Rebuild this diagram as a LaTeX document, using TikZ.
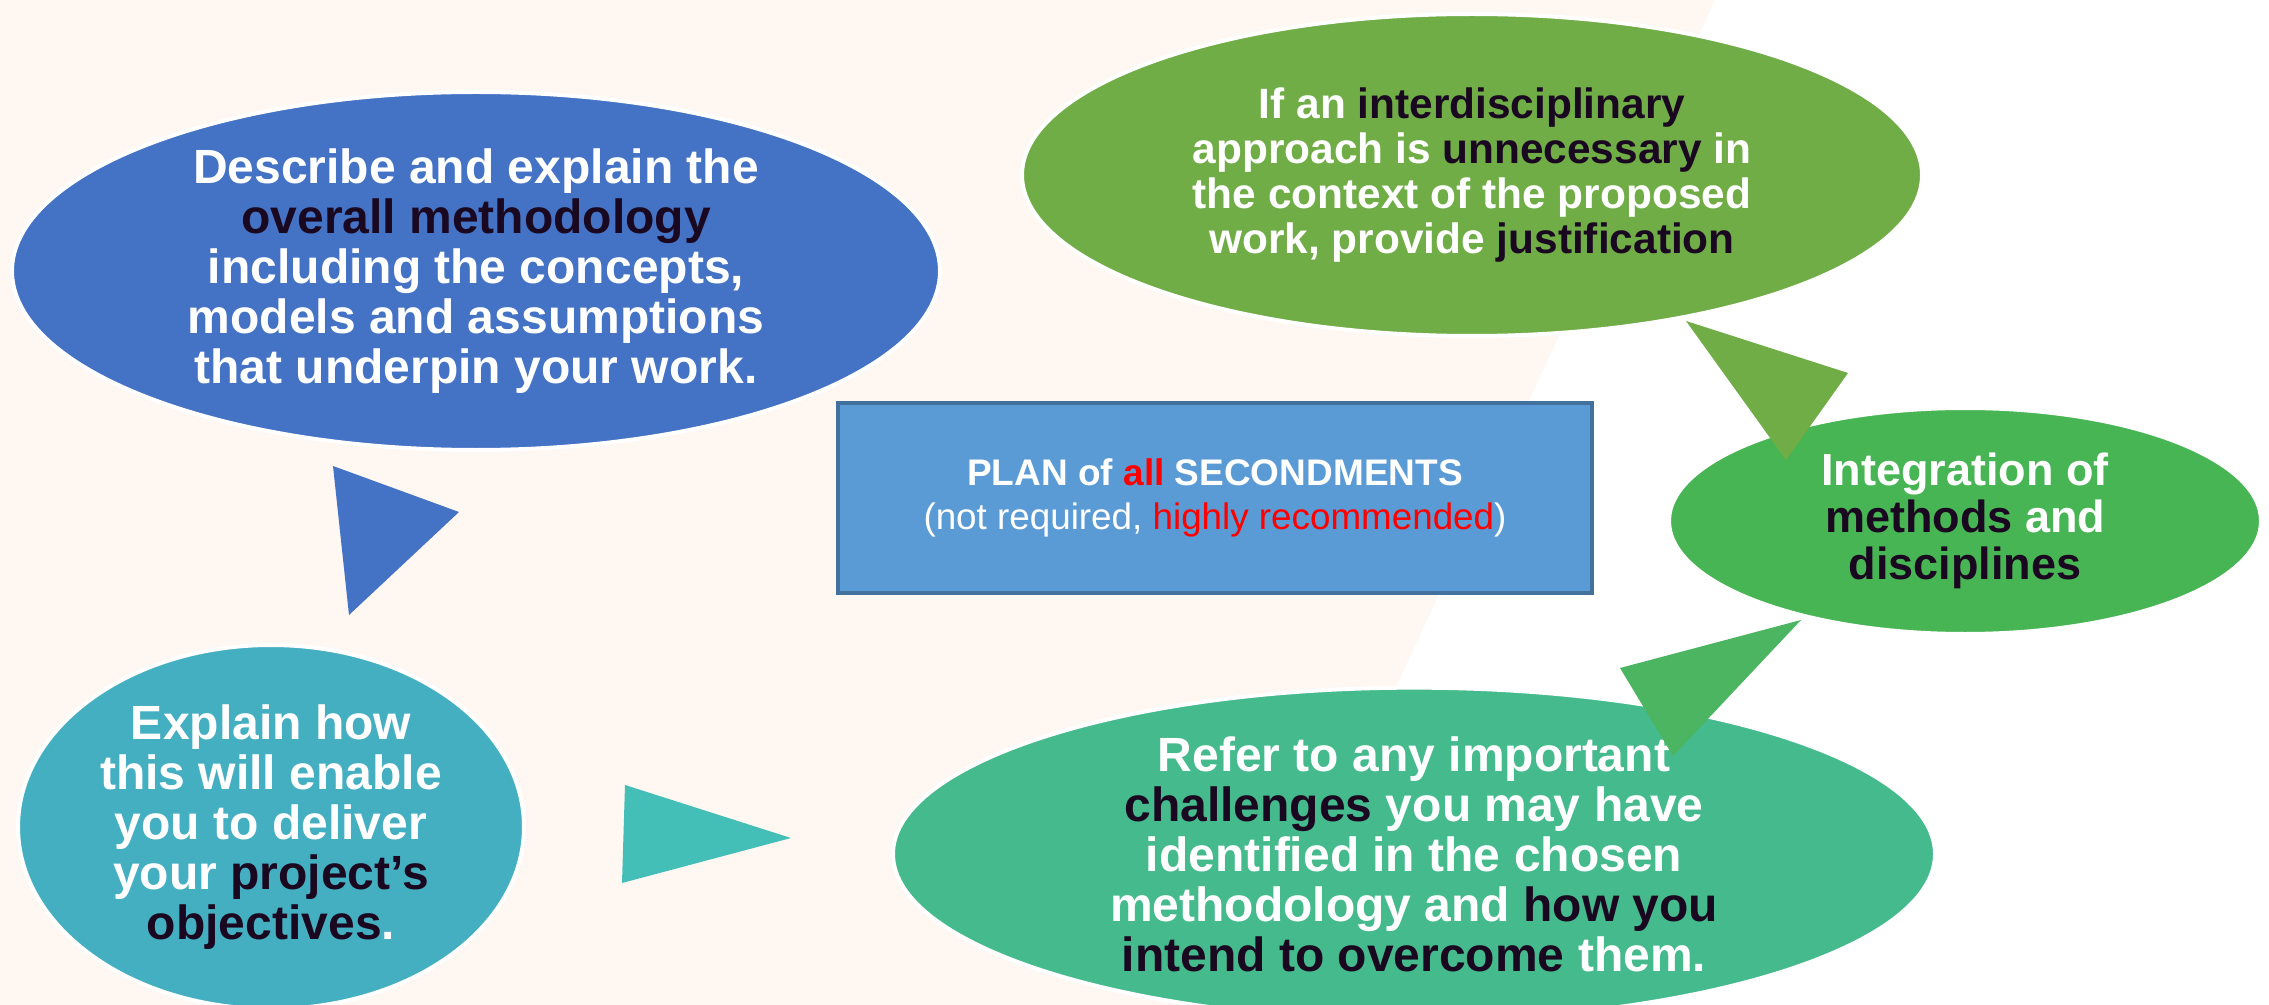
\documentclass[tikz,border=0pt]{standalone}
\usepackage{fontspec}
\setmainfont{Liberation Sans}
\usetikzlibrary{shapes.geometric}

\definecolor{peach}{HTML}{FEF7F2}
\definecolor{methodblue}{HTML}{4472C4}
\definecolor{interdgreen}{HTML}{70AD47}
\definecolor{integgreen}{HTML}{48B554}
\definecolor{challgreen}{HTML}{45BA8D}
\definecolor{objteal}{HTML}{45AFC2}
\definecolor{arrowteal}{HTML}{44BFB8}
\definecolor{arrowgreen}{HTML}{4BB562}
\definecolor{planfill}{HTML}{5B9BD5}
\definecolor{planedge}{HTML}{41719C}
\definecolor{darktext}{HTML}{1A0820}
\definecolor{hired}{HTML}{FF0000}

\newcommand{\dk}[1]{\textcolor{darktext}{#1}}

\tikzset{every picture/.style={line width=0.75pt}}
\tikzset{
  bubble/.style={ellipse, draw=white, line width=2pt, inner sep=0pt, align=center,
    text=white, font=\bfseries\fontsize{24}{25}\selectfont},
  planbox/.style={rectangle, draw=planedge, fill=planfill, line width=2pt, align=center,
    text=white, font=\fontsize{18.5}{22}\selectfont}
}

\begin{document}
\begin{tikzpicture}[x=0.5pt,y=0.5pt,yscale=-1,xscale=1]
	\useasboundingbox (0,0) rectangle (2269,1005);
	
	%Shape: Rectangle [background]
	\fill [white] (0,0) rectangle (2269,1005);
	%Shape: Polygon [peach band]
	\fill [peach] (0,0) -- (1715,0) -- (1248,1005) -- (0,1005) -- cycle;
	
	%Shape: Ellipse [methodology]
	\node [bubble, fill=methodblue, minimum width=464pt, minimum height=179pt] (method) at (476,271)
	{Describe and explain the\\ \dk{overall methodology}\\ including the concepts,\\ models and assumptions\\ that underpin your work.};
	%Shape: Ellipse [interdisciplinary]
	\node [bubble, fill=interdgreen, minimum width=450pt, minimum height=161pt,
	font=\bfseries\fontsize{21.2}{22.5}\selectfont] (interd) at (1472,175)
	{If an \dk{interdisciplinary}\\ approach is \dk{unnecessary} in\\ the context of the proposed\\ work, provide \dk{justification}};
	%Shape: Ellipse [integration]
	\node [bubble, fill=integgreen, minimum width=296pt, minimum height=113pt,
	font=\bfseries\fontsize{22.5}{23.4}\selectfont] (integ) at (1965,521)
	{Integration of\\ \dk{methods} and\\ \dk{disciplines}};
	%Shape: Ellipse [challenges]
	\node [bubble, fill=challgreen, minimum width=521pt, minimum height=155pt] (chall) at (1414,854)
	{Refer to any important\\ \dk{challenges} you may have\\ identified in the chosen\\ methodology and \dk{how you}\\ \dk{intend to overcome} them.};
	%Shape: Ellipse [objectives]
	\node [bubble, fill=objteal, minimum width=253pt, minimum height=182pt] (objct) at (271,827)
	{Explain how\\ this will enable\\ you to deliver\\ your \dk{project’s}\\ \dk{objectives}.};
	
	%Shape: Rectangle [secondments]
	\node [planbox, minimum width=377pt, minimum height=95pt] (plan) at (1215,498)
	{\textbf{PLAN of \textcolor{hired}{all} SECONDMENTS}\\ \fontsize{18.4}{22}\selectfont(not required, \textcolor{hired}{highly recommended})};
	
	%Shape: Triangle [objectives to methodology]
	\fill [methodblue] (333,466) -- (459,512) -- (349,615) -- cycle;
	%Shape: Triangle [methodology to challenges]
	\fill [arrowteal] (625,785) -- (791,838) -- (622,883) -- cycle;
	%Shape: Triangle [interdisciplinary to integration]
	\fill [interdgreen] (1686,321) -- (1848,373) -- (1786,460) -- cycle;
	%Shape: Triangle [integration to challenges]
	\fill [arrowgreen] (1801,620) -- (1620,668) -- (1673,756) -- cycle;
	
\end{tikzpicture}
\end{document}
